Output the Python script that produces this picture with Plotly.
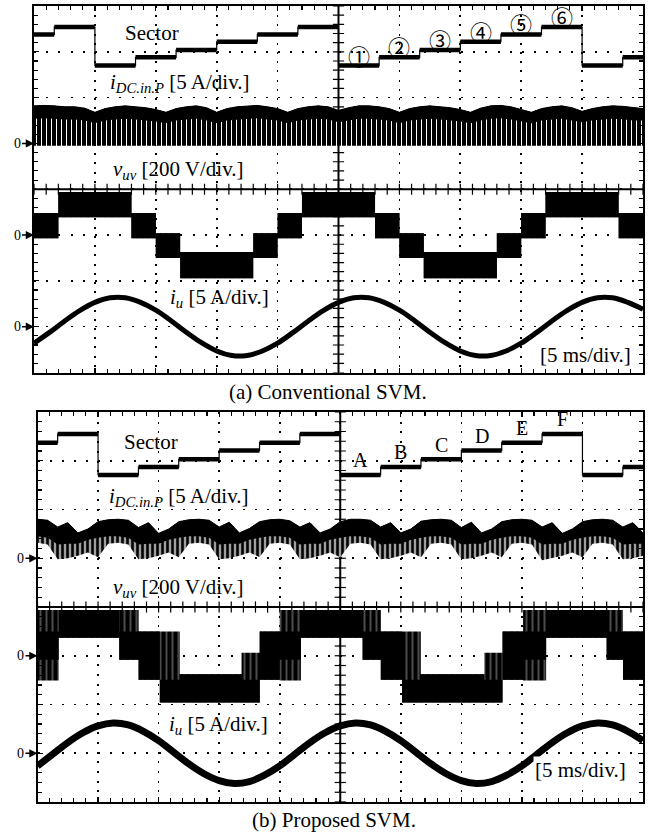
import numpy as np
import plotly.graph_objects as go

# ---------------- data (oscilloscope divisions, 5 ms/div) ----------------
# Sector signal (both panels share the timing)
sector_edges = [0.0, 0.333, 1.0, 1.667, 2.333, 3.0, 3.667, 4.333, 5.0,
                5.667, 6.333, 7.0, 7.667, 8.333, 9.0, 9.667, 10.0]
sector_seq = [5, 6, 1, 2, 3, 4, 5, 6, 1, 2, 3, 4, 5, 6, 1, 2]
sector_level_a = [6.70, 6.88, 7.04, 7.22, 7.38, 7.54]
sector_level_b = [6.71, 6.87, 7.03, 7.21, 7.37, 7.55]
sector_tags_a = ["①", "②", "③", "④", "⑤", "⑥"]
sector_tags_b = ["A", "B", "C", "D", "E", "F"]
sector_tag_start = 8          # the labelled cycle starts at sector_seq[8]

# i_DC.in.P (div above its 0 marker), read every 1/6 div
idc_top_a = [0.82, 0.83, 0.82, 0.80, 0.80, 0.77, 0.68, 0.76, 0.80, 0.82, 0.80,
             0.78, 0.74, 0.68, 0.76, 0.80, 0.82, 0.78, 0.68, 0.76, 0.80, 0.82,
             0.83, 0.80, 0.76, 0.68, 0.76, 0.80, 0.82, 0.80, 0.72, 0.78, 0.82,
             0.82, 0.80, 0.76, 0.68, 0.76, 0.80, 0.82, 0.80, 0.78, 0.74, 0.68,
             0.77, 0.82, 0.83, 0.80, 0.74, 0.68, 0.76, 0.80, 0.82, 0.78, 0.70,
             0.76, 0.80, 0.82, 0.81, 0.78, 0.76]
idc_dense_a = [0.54, 0.55, 0.54, 0.52, 0.52, 0.50, 0.44, 0.50, 0.52, 0.54, 0.52,
               0.50, 0.48, 0.44, 0.50, 0.52, 0.54, 0.50, 0.44, 0.50, 0.52, 0.54,
               0.55, 0.52, 0.50, 0.44, 0.50, 0.52, 0.54, 0.52, 0.46, 0.50, 0.54,
               0.54, 0.52, 0.50, 0.44, 0.50, 0.52, 0.54, 0.52, 0.50, 0.48, 0.44,
               0.50, 0.54, 0.55, 0.52, 0.48, 0.44, 0.50, 0.52, 0.54, 0.50, 0.46,
               0.50, 0.52, 0.54, 0.53, 0.50, 0.50]
idc_floor_a = -0.05

idc_top_b = [0.80, 0.78, 0.64, 0.73, 0.52, 0.60, 0.75, 0.79,
             0.80, 0.78, 0.63, 0.73, 0.51, 0.60, 0.75, 0.79,
             0.80, 0.78, 0.64, 0.74, 0.52, 0.61, 0.75, 0.79,
             0.80, 0.77, 0.64, 0.73, 0.52, 0.60, 0.75, 0.80,
             0.80, 0.78, 0.64, 0.73, 0.52, 0.60, 0.76, 0.79,
             0.80, 0.78, 0.63, 0.74, 0.52, 0.60, 0.75, 0.79,
             0.80, 0.78, 0.64, 0.73, 0.51, 0.60, 0.75, 0.79,
             0.80, 0.78, 0.64, 0.73, 0.52]
idc_dense_b = [0.45, 0.42, 0.28, 0.30, 0.30, 0.38, 0.42, 0.45,
               0.45, 0.42, 0.28, 0.30, 0.30, 0.38, 0.42, 0.45,
               0.45, 0.42, 0.28, 0.30, 0.30, 0.38, 0.42, 0.45,
               0.45, 0.42, 0.28, 0.30, 0.30, 0.38, 0.42, 0.45,
               0.45, 0.42, 0.28, 0.30, 0.30, 0.38, 0.42, 0.45,
               0.45, 0.42, 0.28, 0.30, 0.30, 0.38, 0.42, 0.45,
               0.45, 0.42, 0.28, 0.30, 0.30, 0.38, 0.42, 0.45,
               0.45, 0.42, 0.28, 0.30, 0.30]
idc_floor_b = [0.32, 0.28, -0.02, 0.00, 0.05, 0.12, 0.02, 0.30,
               0.32, 0.28, -0.02, 0.00, 0.05, 0.12, 0.02, 0.30,
               0.32, 0.28, -0.02, 0.00, 0.05, 0.12, 0.02, 0.30,
               0.32, 0.28, -0.02, 0.00, 0.05, 0.12, 0.02, 0.30,
               0.32, 0.28, -0.02, 0.00, 0.05, 0.12, 0.02, 0.30,
               0.32, 0.28, -0.02, 0.00, 0.05, 0.12, 0.02, 0.30,
               0.32, 0.28, -0.04, 0.00, 0.05, 0.12, 0.02, 0.30,
               0.32, 0.28, -0.02, 0.00, 0.05]

# v_uv staircase (div relative to its 0 marker)
vuv_edges_a = [0.0, 0.4, 1.6, 2.0, 2.4, 3.6, 4.0, 4.4, 5.6, 6.0, 6.4, 7.6,
               8.0, 8.4, 9.6, 10.0]
vuv_state_a = [2, 3, 2, 1, 0, 1, 2, 3, 2, 1, 0, 1, 2, 3, 2]
vuv_lo_a = [-0.94, -0.50, -0.07, 0.39]
vuv_hi_a = [-0.37, 0.04, 0.48, 0.94]

vuv_edges_b = [0.0, 0.35, 1.35, 1.67, 2.02, 2.35, 3.37, 3.67, 4.0, 4.35, 5.37,
               5.67, 6.02, 6.33, 7.38, 7.68, 8.02, 8.4, 9.4, 9.67, 10.0]
vuv_state_b = [7, 0, 1, 2, 3, 4, 5, 6, 7, 0, 1, 2, 3, 4, 5, 6, 7, 0, 1, 2]
vuv_pulse_lo_b = [0.37, -0.08, -0.49, -0.96, -0.96, -0.96, -0.49, -0.51]
vuv_pulse_hi_b = [0.94, 0.94, 0.50, 0.50, -0.38, 0.06, 0.50, 0.94]
vuv_solid_lo_b = [0.37, -0.08, -0.49, -0.96, -0.96, -0.96, -0.49, -0.08]
vuv_solid_hi_b = [0.94, 0.50, 0.50, -0.49, -0.38, -0.49, 0.50, 0.50]

# i_u, read every 0.25 div
iu_a = [-0.36, -0.13, 0.12, 0.35, 0.53, 0.63, 0.63, 0.53, 0.36, 0.13, -0.12,
        -0.35, -0.53, -0.63, -0.63, -0.53, -0.36, -0.13, 0.12, 0.35, 0.53,
        0.63, 0.63, 0.53, 0.36, 0.13, -0.12, -0.35, -0.53, -0.63, -0.63,
        -0.53, -0.36, -0.13, 0.12, 0.35, 0.53, 0.63, 0.63, 0.53, 0.38]
iu_b = [-0.26, -0.02, 0.22, 0.42, 0.56, 0.62, 0.58, 0.45, 0.26, 0.02, -0.22,
        -0.42, -0.56, -0.62, -0.58, -0.45, -0.26, -0.02, 0.22, 0.42, 0.56,
        0.62, 0.58, 0.45, 0.26, 0.02, -0.22, -0.42, -0.56, -0.62, -0.58,
        -0.45, -0.26, -0.02, 0.22, 0.42, 0.56, 0.62, 0.58, 0.45, 0.26]

# ---------------- layout constants ----------------
W, H = 650, 834
ZERO_IDC, ZERO_VUV, ZERO_IU = 5, 3, 1
SERIF = "Liberation Serif"
FS = 21

fig = go.Figure()


def add(tr):
    tr.update(hoverinfo="skip", showlegend=False)
    fig.add_trace(tr)


def band(x, lo, hi, xa, ya, shape="linear", color="black", pattern=None, edge=0.0):
    add(go.Scatter(x=x, y=lo, mode="lines", xaxis=xa, yaxis=ya,
                   line=dict(width=0, shape=shape, color="black")))
    kw = dict(x=x, y=hi, mode="lines", xaxis=xa, yaxis=ya, fill="tonexty",
              line=dict(width=edge, shape=shape, color="black"))
    if pattern is not None:
        kw["fillpattern"] = pattern
        kw["fillcolor"] = pattern.get("bgcolor", "white")
    else:
        kw["fillcolor"] = color
    add(go.Scatter(**kw))


def steps(vals):
    return list(vals) + [vals[-1]]


def panel(xa, ya, lev, idc_top, idc_dense, idc_floor, idc_pat, vuv, iu, iu_w):
    # centre-line tick marks
    tx = np.round(np.arange(0, 10.001, 0.2), 3)
    ty = np.round(np.arange(0, 8.001, 0.2), 3)
    add(go.Scatter(x=tx, y=[4] * len(tx), mode="markers", xaxis=xa, yaxis=ya,
                   marker=dict(symbol="line-ns", size=8,
                               line=dict(width=1.2, color="black"))))
    add(go.Scatter(x=[5] * len(ty), y=ty, mode="markers", xaxis=xa, yaxis=ya,
                   marker=dict(symbol="line-ew", size=8,
                               line=dict(width=1.2, color="black"))))
    # sector: thin verticals + thick plateaus
    lv = [lev[s - 1] for s in sector_seq]
    add(go.Scatter(x=sector_edges, y=steps(lv), mode="lines", xaxis=xa, yaxis=ya,
                   line=dict(width=1.2, color="black", shape="hv")))
    px, py = [], []
    for i, v in enumerate(lv):
        px += [sector_edges[i], sector_edges[i + 1], None]
        py += [v, v, None]
    add(go.Scatter(x=px, y=py, mode="lines", xaxis=xa, yaxis=ya,
                   line=dict(width=4.5, color="black")))
    # i_DC.in.P band
    n = len(idc_top)
    xs = np.linspace(0, 10, n)
    top = [ZERO_IDC + v for v in idc_top]
    dense = [ZERO_IDC + v for v in idc_dense]
    if np.isscalar(idc_floor):
        floor = [ZERO_IDC + idc_floor] * n
    else:
        floor = [ZERO_IDC + v for v in idc_floor]
    band(xs, floor, top, xa, ya, pattern=idc_pat)
    band(xs, dense, top, xa, ya, color="black", edge=1.0)
    # v_uv staircase
    edges, plo, phi, slo, shi = vuv
    band(edges, steps([ZERO_VUV + v for v in plo]), steps([ZERO_VUV + v for v in phi]),
         xa, ya, shape="hv",
         pattern=dict(shape="|", bgcolor="black", fgcolor="white", size=6,
                      solidity=0.1, fillmode="replace"))
    band(edges, steps([ZERO_VUV + v for v in slo]), steps([ZERO_VUV + v for v in shi]),
         xa, ya, shape="hv", color="black")
    # i_u sinusoid
    xi = np.linspace(0, 10, len(iu))
    add(go.Scatter(x=xi, y=[ZERO_IU + v for v in iu], mode="lines", xaxis=xa,
                   yaxis=ya, line=dict(width=iu_w, color="black", shape="spline")))


# panel (a)
vuv_a = (vuv_edges_a,
         [vuv_lo_a[s] for s in vuv_state_a], [vuv_hi_a[s] for s in vuv_state_a],
         [vuv_lo_a[s] for s in vuv_state_a], [vuv_hi_a[s] for s in vuv_state_a])
panel("x", "y", sector_level_a, idc_top_a, idc_dense_a, idc_floor_a,
      dict(shape="|", bgcolor="black", fgcolor="white", size=5, solidity=0.2,
           fillmode="replace"),
      vuv_a, iu_a, 5)

# panel (b)
vuv_b = (vuv_edges_b,
         [vuv_pulse_lo_b[s] for s in vuv_state_b], [vuv_pulse_hi_b[s] for s in vuv_state_b],
         [vuv_solid_lo_b[s] for s in vuv_state_b], [vuv_solid_hi_b[s] for s in vuv_state_b])
panel("x2", "y2", sector_level_b, idc_top_b, idc_dense_b, idc_floor_b,
      dict(shape="|", bgcolor="black", fgcolor="white", size=5, solidity=0.3,
           fillmode="replace"),
      vuv_b, iu_b, 7)

# ---------------- axes ----------------
def xaxis(domain, anchor, dash):
    return dict(domain=domain, anchor=anchor, range=[0, 10], dtick=1, tick0=0,
                showticklabels=False, showgrid=True, gridcolor="black",
                gridwidth=1.6, griddash=dash, zeroline=False,
                showline=True, linecolor="black", linewidth=2, mirror="allticks",
                ticks="inside", ticklen=5, tickwidth=1.2, tickcolor="black",
                minor=dict(dtick=0.2, ticks="inside", ticklen=4, tickwidth=1.1,
                           tickcolor="black", showgrid=False),
                fixedrange=True)


def yaxis(domain, anchor, dash):
    d = xaxis(domain, anchor, dash)
    d["range"] = [0, 8]
    return d


xa_dom = [34 / W, 643 / W]
xb_dom = [37.5 / W, 643 / W]
ya_dom = [1 - 372.5 / H, 1 - 6 / H]
yb_dom = [1 - 802 / H, 1 - 412 / H]

fig.update_layout(
    width=W, height=H, margin=dict(l=0, r=0, t=0, b=0),
    paper_bgcolor="white", plot_bgcolor="white", showlegend=False,
    hovermode=False,
    xaxis=xaxis(xa_dom, "y", "2px,7.2px"), yaxis=yaxis(ya_dom, "x", "2px,10.2px"),
    xaxis2=xaxis(xb_dom, "y2", "2px,7.7px"), yaxis2=yaxis(yb_dom, "x2", "2px,10.1px"),
)

shapes = []
for xr, yr in (("x", "y"), ("x2", "y2")):
    shapes.append(dict(type="line", xref=xr, yref=yr, x0=5, x1=5, y0=0, y1=8,
                       line=dict(color="black", width=2), layer="below"))
    shapes.append(dict(type="line", xref=xr, yref=yr, x0=0, x1=10, y0=4, y1=4,
                       line=dict(color="black", width=2), layer="below"))
fig.update_layout(shapes=shapes)

# ---------------- text ----------------
ann = []


def txt(xr, yr, x, y, s, size=FS, family=SERIF, bg=None):
    d = dict(xref=xr, yref=yr, x=x, y=y, text=s, showarrow=False,
             font=dict(family=family, size=size, color="black"),
             xanchor="center", yanchor="middle")
    if bg:
        d["bgcolor"] = bg
    ann.append(d)


def zero_marker(xr, yr, y):
    ann.append(dict(xref=xr, yref=yr, x=0, y=y, text="0", showarrow=True,
                    arrowhead=2, arrowsize=1.1, arrowwidth=1.5, arrowcolor="black",
                    ax=-17, ay=0, standoff=0,
                    font=dict(family=SERIF, size=14, color="black")))


def labels(xr, yr, lev, tags, tag_font, tag_size, tag_off, pos):
    (sx, sy), (ix, iy), (vx, vy), (ux, uy), (mx, my) = pos
    txt(xr, yr, sx, sy, "Sector")
    txt(xr, yr, ix, iy, "<i>i</i><sub><i>DC.in.P</i></sub> [5 A/div.]")
    txt(xr, yr, vx, vy, "<i>v</i><sub><i>uv</i></sub> [200 V/div.]")
    txt(xr, yr, ux, uy, "<i>i</i><sub><i>u</i></sub> [5 A/div.]")
    txt(xr, yr, mx, my, "[5 ms/div.]", bg="white")
    for k, tag in enumerate(tags):
        i = sector_tag_start + k
        xm = (sector_edges[i] + sector_edges[i + 1]) / 2
        ym = lev[sector_seq[i] - 1] + tag_off
        txt(xr, yr, xm, ym, tag, size=tag_size, family=tag_font)
    for z in (ZERO_IDC, ZERO_VUV, ZERO_IU):
        zero_marker(xr, yr, z)


labels("x", "y", sector_level_a, sector_tags_a, "Noto Sans CJK JP", 22, 0.24,
       [(1.94, 7.41), (2.40, 6.32), (2.38, 4.42), (3.05, 1.63), (9.06, 0.38)])
labels("x2", "y2", sector_level_b, sector_tags_b, SERIF, 20, 0.3,
       [(1.87, 7.38), (2.34, 6.26), (2.33, 4.39), (2.99, 1.58), (8.97, 0.66)])

txt("paper", "paper", 328 / W, 1 - 392 / H, "(a) Conventional SVM.")
txt("paper", "paper", 334 / W, 1 - 820 / H, "(b) Proposed SVM.")

fig.update_layout(annotations=ann)
fig.write_html("out.html",
               config={"displayModeBar": False, "staticPlot": True},
               post_script="document.body.style.margin='0px';"
                           "document.body.style.overflow='hidden';")
